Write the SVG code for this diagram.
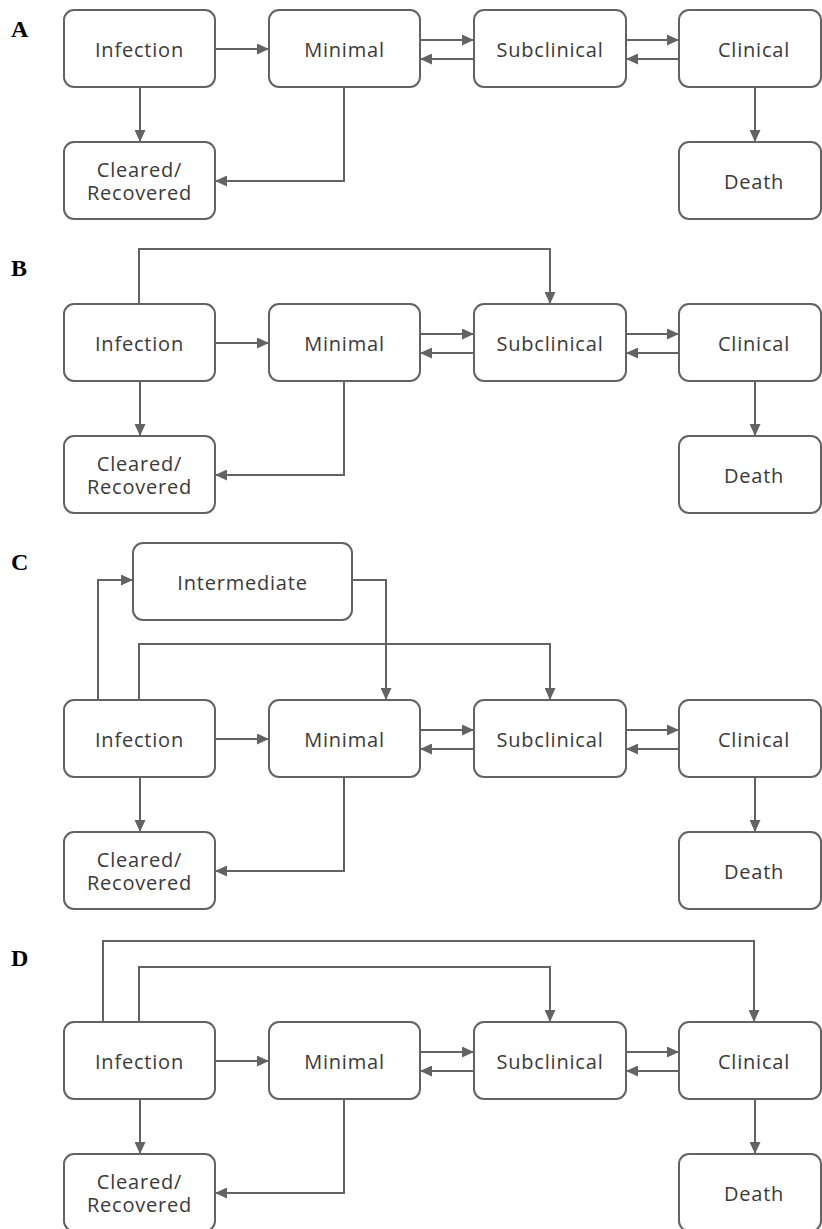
<svg xmlns="http://www.w3.org/2000/svg" width="822" height="1229" viewBox="0 0 822 1229">
<style>
.box{fill:#ffffff;stroke:#636363;stroke-width:2}
.lbl{font-family:"Open Sans","DejaVu Sans",sans-serif;font-size:20px;letter-spacing:0.8px;fill:#3a3a3a;text-anchor:middle}
.edge{fill:none;stroke:#636363;stroke-width:2;marker-end:url(#ah)}
.pl{font-family:"Liberation Serif","Times New Roman",serif;font-weight:bold;font-size:24px;fill:#000}
</style>
<defs>
<marker id="ah" markerUnits="userSpaceOnUse" markerWidth="12" markerHeight="11" refX="12" refY="5.5" orient="auto">
<path d="M0,0 L12,5.5 L0,11 z" fill="#636363"/>
</marker>
</defs>
<rect width="822" height="1229" fill="#ffffff"/>

<!-- Panel A -->
<g id="panelA">
<text class="pl" x="11" y="37">A</text>
<g id="A_connectors">
<path class="edge" d="M215,49 H269"/>
<path class="edge" d="M420,40 H474"/>
<path class="edge" d="M474,59 H420"/>
<path class="edge" d="M626,40 H679"/>
<path class="edge" d="M679,59 H626"/>
<path class="edge" d="M140,87 V142"/>
<path class="edge" d="M344,87 V181 H215"/>
<path class="edge" d="M755,87 V142"/>
</g>
<g id="A_infection"><rect class="box" x="64" y="10" width="151" height="77" rx="10"/><text class="lbl" x="139.5" y="57">Infection</text></g>
<g id="A_minimal"><rect class="box" x="269" y="10" width="151" height="77" rx="10"/><text class="lbl" x="344.5" y="57">Minimal</text></g>
<g id="A_subclinical"><rect class="box" x="474" y="10" width="152" height="77" rx="10"/><text class="lbl" x="550" y="57">Subclinical</text></g>
<g id="A_clinical"><rect class="box" x="679" y="10" width="142" height="77" rx="10"/><text class="lbl" x="754" y="57">Clinical</text></g>
<g id="A_cleared"><rect class="box" x="64" y="142" width="151" height="77" rx="10"/><text class="lbl" x="139.5" y="177">Cleared/</text><text class="lbl" x="139.5" y="200">Recovered</text></g>
<g id="A_death"><rect class="box" x="679" y="142" width="142" height="77" rx="10"/><text class="lbl" x="754" y="189">Death</text></g>
</g>

<!-- Panel B -->
<g id="panelB">
<text class="pl" x="11" y="276">B</text>
<g id="B_connectors" transform="translate(0,294)">
<path class="edge" d="M139,10 V-45 H550 V10"/>
<path class="edge" d="M215,49 H269"/>
<path class="edge" d="M420,40 H474"/>
<path class="edge" d="M474,59 H420"/>
<path class="edge" d="M626,40 H679"/>
<path class="edge" d="M679,59 H626"/>
<path class="edge" d="M140,87 V142"/>
<path class="edge" d="M344,87 V181 H215"/>
<path class="edge" d="M755,87 V142"/>
</g>
<g transform="translate(0,294)">
<g id="B_infection"><rect class="box" x="64" y="10" width="151" height="77" rx="10"/><text class="lbl" x="139.5" y="57">Infection</text></g>
<g id="B_minimal"><rect class="box" x="269" y="10" width="151" height="77" rx="10"/><text class="lbl" x="344.5" y="57">Minimal</text></g>
<g id="B_subclinical"><rect class="box" x="474" y="10" width="152" height="77" rx="10"/><text class="lbl" x="550" y="57">Subclinical</text></g>
<g id="B_clinical"><rect class="box" x="679" y="10" width="142" height="77" rx="10"/><text class="lbl" x="754" y="57">Clinical</text></g>
<g id="B_cleared"><rect class="box" x="64" y="142" width="151" height="77" rx="10"/><text class="lbl" x="139.5" y="177">Cleared/</text><text class="lbl" x="139.5" y="200">Recovered</text></g>
<g id="B_death"><rect class="box" x="679" y="142" width="142" height="77" rx="10"/><text class="lbl" x="754" y="189">Death</text></g>
</g>
</g>

<!-- Panel C -->
<g id="panelC">
<text class="pl" x="11" y="570">C</text>
<g id="C_connectors" transform="translate(0,690)">
<path class="edge" d="M98,10 V-110 H133"/>
<path class="edge" d="M352,-110 H386 V10"/>
<path class="edge" d="M139,10 V-46 H550 V10"/>
<path class="edge" d="M215,49 H269"/>
<path class="edge" d="M420,40 H474"/>
<path class="edge" d="M474,59 H420"/>
<path class="edge" d="M626,40 H679"/>
<path class="edge" d="M679,59 H626"/>
<path class="edge" d="M140,87 V142"/>
<path class="edge" d="M344,87 V181 H215"/>
<path class="edge" d="M755,87 V142"/>
</g>
<g transform="translate(0,690)">
<g id="C_intermediate"><rect class="box" x="133" y="-147" width="219" height="77" rx="10"/><text class="lbl" x="242.5" y="-100">Intermediate</text></g>
<g id="C_infection"><rect class="box" x="64" y="10" width="151" height="77" rx="10"/><text class="lbl" x="139.5" y="57">Infection</text></g>
<g id="C_minimal"><rect class="box" x="269" y="10" width="151" height="77" rx="10"/><text class="lbl" x="344.5" y="57">Minimal</text></g>
<g id="C_subclinical"><rect class="box" x="474" y="10" width="152" height="77" rx="10"/><text class="lbl" x="550" y="57">Subclinical</text></g>
<g id="C_clinical"><rect class="box" x="679" y="10" width="142" height="77" rx="10"/><text class="lbl" x="754" y="57">Clinical</text></g>
<g id="C_cleared"><rect class="box" x="64" y="142" width="151" height="77" rx="10"/><text class="lbl" x="139.5" y="177">Cleared/</text><text class="lbl" x="139.5" y="200">Recovered</text></g>
<g id="C_death"><rect class="box" x="679" y="142" width="142" height="77" rx="10"/><text class="lbl" x="754" y="189">Death</text></g>
</g>
</g>

<!-- Panel D -->
<g id="panelD">
<text class="pl" x="11" y="966">D</text>
<g id="D_connectors" transform="translate(0,1012)">
<path class="edge" d="M103,10 V-71 H754 V10"/>
<path class="edge" d="M139,10 V-45 H550 V10"/>
<path class="edge" d="M215,49 H269"/>
<path class="edge" d="M420,40 H474"/>
<path class="edge" d="M474,59 H420"/>
<path class="edge" d="M626,40 H679"/>
<path class="edge" d="M679,59 H626"/>
<path class="edge" d="M140,87 V142"/>
<path class="edge" d="M344,87 V181 H215"/>
<path class="edge" d="M755,87 V142"/>
</g>
<g transform="translate(0,1012)">
<g id="D_infection"><rect class="box" x="64" y="10" width="151" height="77" rx="10"/><text class="lbl" x="139.5" y="57">Infection</text></g>
<g id="D_minimal"><rect class="box" x="269" y="10" width="151" height="77" rx="10"/><text class="lbl" x="344.5" y="57">Minimal</text></g>
<g id="D_subclinical"><rect class="box" x="474" y="10" width="152" height="77" rx="10"/><text class="lbl" x="550" y="57">Subclinical</text></g>
<g id="D_clinical"><rect class="box" x="679" y="10" width="142" height="77" rx="10"/><text class="lbl" x="754" y="57">Clinical</text></g>
<g id="D_cleared"><rect class="box" x="64" y="142" width="151" height="77" rx="10"/><text class="lbl" x="139.5" y="177">Cleared/</text><text class="lbl" x="139.5" y="200">Recovered</text></g>
<g id="D_death"><rect class="box" x="679" y="142" width="142" height="77" rx="10"/><text class="lbl" x="754" y="189">Death</text></g>
</g>
</g>
</svg>
